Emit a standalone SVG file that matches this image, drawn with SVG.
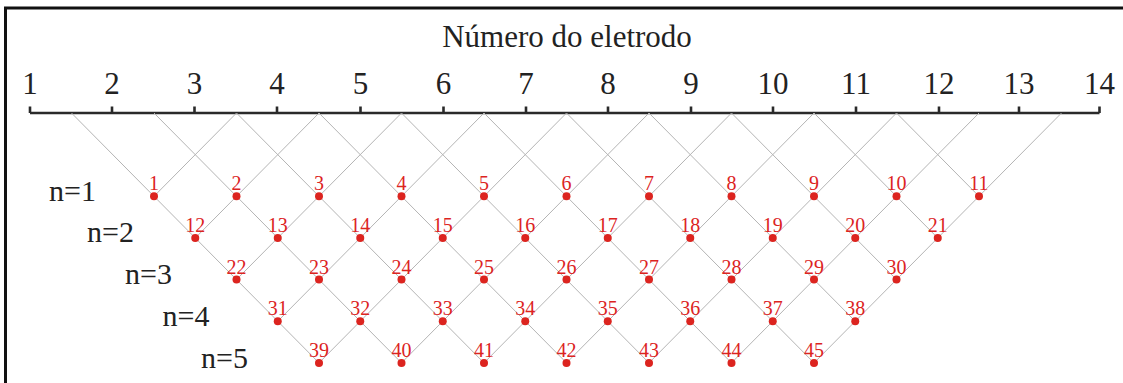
<svg xmlns="http://www.w3.org/2000/svg" width="1123" height="383" viewBox="0 0 1123 383">
<style>
.frame{fill:none;stroke:#111;stroke-width:3}
.axis{fill:none;stroke:#2a2a2a;stroke-width:2.6}
.tl{font-family:"Liberation Serif","Times New Roman",serif;font-size:31px;fill:#222;text-anchor:middle}
.title{font-family:"Liberation Serif","Times New Roman",serif;font-size:31px;fill:#222;text-anchor:middle}
.nl{font-family:"Liberation Serif","Times New Roman",serif;font-size:30px;fill:#222}
.conn line{stroke:#b4b4b4;stroke-width:1}
.pt circle{fill:#dc241f}
.pt text{font-family:"Liberation Serif","Times New Roman",serif;font-size:20px;fill:#dc241f;text-anchor:middle}
</style>
<rect width="1123" height="383" fill="#fff"/>
<path class="frame" d="M5.5,383 V8 H1123"/>
<g id="axis">
<path class="axis" d="M30,113 H1099.5 M30,106.5 V113 M112,106.5 V113 M194.5,106.5 V113 M277,106.5 V113 M360.5,106.5 V113 M443.5,106.5 V113 M526,106.5 V113 M608,106.5 V113 M691,106.5 V113 M773,106.5 V113 M856,106.5 V113 M939,106.5 V113 M1019,106.5 V113 M1099.5,106.5 V113"/>
<text class="title" x="567" y="47">Número do eletrodo</text>
<text class="tl" x="30" y="94">1</text>
<text class="tl" x="112" y="94">2</text>
<text class="tl" x="194.5" y="94">3</text>
<text class="tl" x="277" y="94">4</text>
<text class="tl" x="360.5" y="94">5</text>
<text class="tl" x="443.5" y="94">6</text>
<text class="tl" x="526" y="94">7</text>
<text class="tl" x="608" y="94">8</text>
<text class="tl" x="691" y="94">9</text>
<text class="tl" x="773" y="94">10</text>
<text class="tl" x="856" y="94">11</text>
<text class="tl" x="939" y="94">12</text>
<text class="tl" x="1019" y="94">13</text>
<text class="tl" x="1099.5" y="94">14</text>
</g>
<g id="levels">
<text class="nl" x="49" y="200.5">n=1</text>
<text class="nl" x="87" y="242">n=2</text>
<text class="nl" x="125" y="284">n=3</text>
<text class="nl" x="162.5" y="326">n=4</text>
<text class="nl" x="201" y="367.5">n=5</text>
</g>
<g id="connectors" class="conn">
<line x1="71.5" y1="113" x2="319" y2="362.9"/>
<line x1="154" y1="113" x2="401.5" y2="362.9"/>
<line x1="236.5" y1="113" x2="484" y2="362.9"/>
<line x1="319" y1="113" x2="566.5" y2="362.9"/>
<line x1="401.5" y1="113" x2="649" y2="362.9"/>
<line x1="484" y1="113" x2="731.5" y2="362.9"/>
<line x1="566.5" y1="113" x2="814" y2="362.9"/>
<line x1="649" y1="113" x2="855.25" y2="321.25"/>
<line x1="731.5" y1="113" x2="896.5" y2="279.6"/>
<line x1="814" y1="113" x2="937.75" y2="238"/>
<line x1="896.5" y1="113" x2="979" y2="196.3"/>
<line x1="236.5" y1="113" x2="154" y2="196.3"/>
<line x1="319" y1="113" x2="195.25" y2="238"/>
<line x1="401.5" y1="113" x2="236.5" y2="279.6"/>
<line x1="484" y1="113" x2="277.75" y2="321.25"/>
<line x1="566.5" y1="113" x2="319" y2="362.9"/>
<line x1="649" y1="113" x2="401.5" y2="362.9"/>
<line x1="731.5" y1="113" x2="484" y2="362.9"/>
<line x1="814" y1="113" x2="566.5" y2="362.9"/>
<line x1="896.5" y1="113" x2="649" y2="362.9"/>
<line x1="979" y1="113" x2="731.5" y2="362.9"/>
<line x1="1061.5" y1="113" x2="814" y2="362.9"/>
</g>
<g id="points">
<g id="p1" class="pt"><circle cx="154" cy="196.3" r="4"/><text x="154" y="190.3">1</text></g>
<g id="p2" class="pt"><circle cx="236.5" cy="196.3" r="4"/><text x="236.5" y="190.3">2</text></g>
<g id="p3" class="pt"><circle cx="319" cy="196.3" r="4"/><text x="319" y="190.3">3</text></g>
<g id="p4" class="pt"><circle cx="401.5" cy="196.3" r="4"/><text x="401.5" y="190.3">4</text></g>
<g id="p5" class="pt"><circle cx="484" cy="196.3" r="4"/><text x="484" y="190.3">5</text></g>
<g id="p6" class="pt"><circle cx="566.5" cy="196.3" r="4"/><text x="566.5" y="190.3">6</text></g>
<g id="p7" class="pt"><circle cx="649" cy="196.3" r="4"/><text x="649" y="190.3">7</text></g>
<g id="p8" class="pt"><circle cx="731.5" cy="196.3" r="4"/><text x="731.5" y="190.3">8</text></g>
<g id="p9" class="pt"><circle cx="814" cy="196.3" r="4"/><text x="814" y="190.3">9</text></g>
<g id="p10" class="pt"><circle cx="896.5" cy="196.3" r="4"/><text x="896.5" y="190.3">10</text></g>
<g id="p11" class="pt"><circle cx="979" cy="196.3" r="4"/><text x="979" y="190.3">11</text></g>
<g id="p12" class="pt"><circle cx="195.25" cy="238" r="4"/><text x="195.25" y="232">12</text></g>
<g id="p13" class="pt"><circle cx="277.75" cy="238" r="4"/><text x="277.75" y="232">13</text></g>
<g id="p14" class="pt"><circle cx="360.25" cy="238" r="4"/><text x="360.25" y="232">14</text></g>
<g id="p15" class="pt"><circle cx="442.75" cy="238" r="4"/><text x="442.75" y="232">15</text></g>
<g id="p16" class="pt"><circle cx="525.25" cy="238" r="4"/><text x="525.25" y="232">16</text></g>
<g id="p17" class="pt"><circle cx="607.75" cy="238" r="4"/><text x="607.75" y="232">17</text></g>
<g id="p18" class="pt"><circle cx="690.25" cy="238" r="4"/><text x="690.25" y="232">18</text></g>
<g id="p19" class="pt"><circle cx="772.75" cy="238" r="4"/><text x="772.75" y="232">19</text></g>
<g id="p20" class="pt"><circle cx="855.25" cy="238" r="4"/><text x="855.25" y="232">20</text></g>
<g id="p21" class="pt"><circle cx="937.75" cy="238" r="4"/><text x="937.75" y="232">21</text></g>
<g id="p22" class="pt"><circle cx="236.5" cy="279.6" r="4"/><text x="236.5" y="273.6">22</text></g>
<g id="p23" class="pt"><circle cx="319" cy="279.6" r="4"/><text x="319" y="273.6">23</text></g>
<g id="p24" class="pt"><circle cx="401.5" cy="279.6" r="4"/><text x="401.5" y="273.6">24</text></g>
<g id="p25" class="pt"><circle cx="484" cy="279.6" r="4"/><text x="484" y="273.6">25</text></g>
<g id="p26" class="pt"><circle cx="566.5" cy="279.6" r="4"/><text x="566.5" y="273.6">26</text></g>
<g id="p27" class="pt"><circle cx="649" cy="279.6" r="4"/><text x="649" y="273.6">27</text></g>
<g id="p28" class="pt"><circle cx="731.5" cy="279.6" r="4"/><text x="731.5" y="273.6">28</text></g>
<g id="p29" class="pt"><circle cx="814" cy="279.6" r="4"/><text x="814" y="273.6">29</text></g>
<g id="p30" class="pt"><circle cx="896.5" cy="279.6" r="4"/><text x="896.5" y="273.6">30</text></g>
<g id="p31" class="pt"><circle cx="277.75" cy="321.25" r="4"/><text x="277.75" y="315.25">31</text></g>
<g id="p32" class="pt"><circle cx="360.25" cy="321.25" r="4"/><text x="360.25" y="315.25">32</text></g>
<g id="p33" class="pt"><circle cx="442.75" cy="321.25" r="4"/><text x="442.75" y="315.25">33</text></g>
<g id="p34" class="pt"><circle cx="525.25" cy="321.25" r="4"/><text x="525.25" y="315.25">34</text></g>
<g id="p35" class="pt"><circle cx="607.75" cy="321.25" r="4"/><text x="607.75" y="315.25">35</text></g>
<g id="p36" class="pt"><circle cx="690.25" cy="321.25" r="4"/><text x="690.25" y="315.25">36</text></g>
<g id="p37" class="pt"><circle cx="772.75" cy="321.25" r="4"/><text x="772.75" y="315.25">37</text></g>
<g id="p38" class="pt"><circle cx="855.25" cy="321.25" r="4"/><text x="855.25" y="315.25">38</text></g>
<g id="p39" class="pt"><circle cx="319" cy="362.9" r="4"/><text x="319" y="356.9">39</text></g>
<g id="p40" class="pt"><circle cx="401.5" cy="362.9" r="4"/><text x="401.5" y="356.9">40</text></g>
<g id="p41" class="pt"><circle cx="484" cy="362.9" r="4"/><text x="484" y="356.9">41</text></g>
<g id="p42" class="pt"><circle cx="566.5" cy="362.9" r="4"/><text x="566.5" y="356.9">42</text></g>
<g id="p43" class="pt"><circle cx="649" cy="362.9" r="4"/><text x="649" y="356.9">43</text></g>
<g id="p44" class="pt"><circle cx="731.5" cy="362.9" r="4"/><text x="731.5" y="356.9">44</text></g>
<g id="p45" class="pt"><circle cx="814" cy="362.9" r="4"/><text x="814" y="356.9">45</text></g>
</g>
</svg>
